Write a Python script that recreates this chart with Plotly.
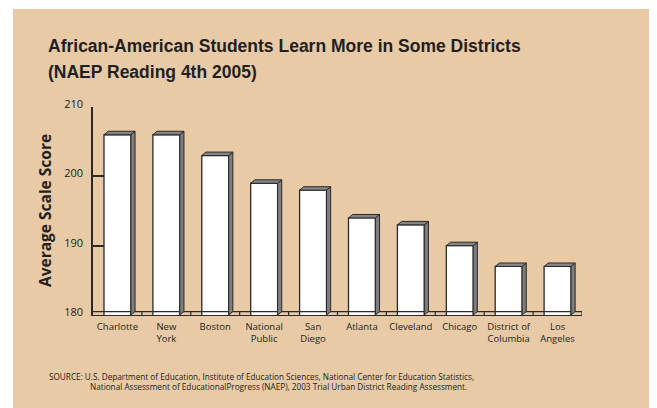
import plotly.graph_objects as go

categories = ["Charlotte", "New<br>York", "Boston", "National<br>Public", "San<br>Diego",
              "Atlanta", "Cleveland", "Chicago", "District of<br>Columbia", "Los<br>Angeles"]
scores = [206, 206, 203, 199, 198, 194, 193, 190, 187, 187]
y_ticks = [180, 190, 200, 210]

title_lines = ["African-American Students Learn More in Some Districts", "(NAEP Reading 4th 2005)"]
source_lines = ["SOURCE: U.S. Department of Education, Institute of Education Sciences, National Center for Education Statistics,",
                "National Assessment of EducationalProgress (NAEP), 2003 Trial Urban District Reading Assessment."]

BG = "#E8CAA6"
DARK = "#2a2a2a"
W = 0.55      # bar width (category units)
DX = 0.085    # depth offset x
DY = 0.5      # depth offset y
YMIN, YMAX = 180, 210

idx = list(range(len(categories)))

# page offset of the figure (browser body margin)
OX, OY = 8, 8
FW, FH = 657 - OX, 408 - OY
# plot area in page pixels: x 93..582, y 107..315
L, R, T, B = 93 - OX, 657 - 582, 107 - OY, 408 - 315
PW, PH = FW - L - R, FH - T - B
def px(x):
    return (x - OX - L) / PW
def py(y):
    return (FH - B - (y - OY)) / PH

fig = go.Figure()

# floor back line and boundary ticks
fx, fy = [-0.5, len(categories) - 0.5], [YMIN + DY, YMIN + DY]
fig.add_trace(go.Scatter(x=fx, y=fy, mode="lines", line=dict(color=DARK, width=1.2),
                         hoverinfo="skip", showlegend=False, cliponaxis=False))
tx, ty = [], []
for k in range(1, len(categories) + 1):
    b = k - 0.5
    tx += [b, b, None]
    ty += [YMIN, YMIN + DY, None]
fig.add_trace(go.Scatter(x=tx, y=ty, mode="lines", line=dict(color=DARK, width=1.2),
                         hoverinfo="skip", showlegend=False, cliponaxis=False))

# side faces
sx, sy = [], []
for i, v in zip(idx, scores):
    r = i + W / 2
    sx += [r, r + DX, r + DX, r, r, None]
    sy += [YMIN, YMIN + DY, v + DY, v, YMIN, None]
fig.add_trace(go.Scatter(x=sx, y=sy, mode="lines", fill="toself", fillcolor="#7d7d7d",
                         line=dict(color=DARK, width=1), hoverinfo="skip", showlegend=False))

# top faces
ux, uy = [], []
for i, v in zip(idx, scores):
    l, r = i - W / 2, i + W / 2
    ux += [l, l + DX, r + DX, r, l, None]
    uy += [v, v + DY, v + DY, v, v, None]
fig.add_trace(go.Scatter(x=ux, y=uy, mode="lines", fill="toself", fillcolor="#858585",
                         line=dict(color=DARK, width=1), hoverinfo="skip", showlegend=False))

# front faces
fig.add_trace(go.Bar(x=idx, y=scores, width=W, marker=dict(color="white",
                     line=dict(color=DARK, width=1.3)), showlegend=False))

fig.update_layout(
    width=FW, height=FH,
    margin=dict(l=L, r=R, t=T, b=B),
    paper_bgcolor="white",
    plot_bgcolor="rgba(0,0,0,0)",
    showlegend=False,
    xaxis=dict(range=[-0.5, len(categories) - 0.5], tickvals=idx, ticktext=categories,
               showgrid=False, zeroline=False, showline=True, linecolor=DARK, linewidth=1.3,
               ticks="", ticklabelstandoff=2,
               tickfont=dict(family="Open Sans", size=9.5, color="#231f20")),
    yaxis=dict(range=[YMIN, YMAX], tickvals=y_ticks, showgrid=False, zeroline=False,
               showline=True, linecolor=DARK, linewidth=1.5, ticks="inside", ticklen=11,
               tickwidth=1.5, tickcolor=DARK, ticklabelstandoff=6, ticklabelshift=-3,
               tickfont=dict(family="Open Sans", size=11, color="#231f20")),
    shapes=[dict(type="rect", xref="paper", yref="paper", layer="below",
                 x0=px(13), x1=px(680), y0=py(430), y1=py(9),
                 fillcolor=BG, line=dict(width=0))],
)

annotations = []
for j, line in enumerate(title_lines):
    annotations.append(dict(text="<b>%s</b>" % line, xref="paper", yref="paper",
                            x=px(46), y=py(46 + j * 26), xanchor="left", yanchor="middle",
                            showarrow=False,
                            font=dict(family="Liberation Sans", size=17.5, color="#231f20")))
annotations.append(dict(text="<b>Average Scale Score</b>", xref="paper", yref="paper",
                        x=px(45), y=py(211), xanchor="center", yanchor="middle",
                        textangle=-90, showarrow=False,
                        font=dict(family="Open Sans", size=15.5, color="#231f20")))
for j, (line, x0) in enumerate(zip(source_lines, [47, 88])):
    annotations.append(dict(text=line, xref="paper", yref="paper",
                            x=px(x0), y=py(376 + j * 10.5), xanchor="left", yanchor="middle",
                            showarrow=False,
                            font=dict(family="Open Sans", size=8.2, color="#231f20")))
fig.update_layout(annotations=annotations)

fig.write_html("out.html")
